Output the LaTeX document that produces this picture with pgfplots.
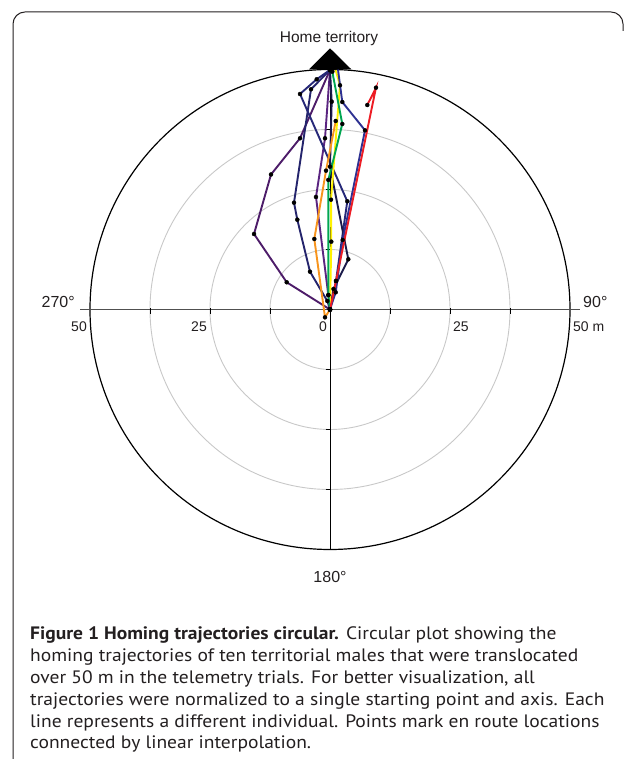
\documentclass[border=0pt]{standalone}
\usepackage{pgfplots}
\pgfplotsset{compat=1.18}
\usepackage{fontspec}
\setmainfont{Liberation Sans}
\newfontfamily\capfont[FakeStretch=1.085]{PT Sans}
\definecolor{cRed}{HTML}{ED1C24}
\definecolor{cOrange}{HTML}{F7941D}
\definecolor{cYellow}{HTML}{FFF200}
\definecolor{cGreen}{HTML}{00A651}
\definecolor{cBlue}{HTML}{2E3192}
\definecolor{cNavy}{HTML}{24246C}
\definecolor{cNavyB}{HTML}{262878}
\definecolor{cDark}{HTML}{1A1A4A}
\definecolor{cPurple}{HTML}{4D1C69}
\definecolor{cPurpleB}{HTML}{5A2480}
\definecolor{cGrid}{HTML}{C8C8C8}
\definecolor{cAxis}{HTML}{505050}
\definecolor{cText}{HTML}{231F20}

\pgfplotstableread{
x y
0 0
-9.02 5.67
-15.83 15.73
-12.29 28.13
-6.25 35.67
0 49.9
}\trA
\pgfplotstableread{
x y
0 0
-0.35 3.02
-2.92 23.44
-1.04 35.67
0 49.9
}\trD
\pgfplotstableread{
x y
0 0
-0.56 1.77
-4.17 7.88
-6.81 18.71
-7.5 22.25
-3.96 45.88
0 49.9
}\trC
\pgfplotstableread{
x y
0 0
1.25 5.94
3.60 22.54
-6.25 44.9
-2.77 47.96
0 49.9
}\trB
\pgfplotstableread{
x y
0 0
0.73 4.27
3.81 10.46
0 29.75
0.35 43.29
0 49.9
}\trF
\pgfplotstableread{
x y
0 0
1.19 3.58
2.65 14.48
7.29 37.33
2.56 43.23
1.60 50.46
}\trE
\pgfplotstableread{
x y
0 0
-1.04 -1.63
-3.27 14.69
-0.83 28.92
1.19 39.27
}\trH
\pgfplotstableread{
x y
0 0
0.27 14.13
0.21 22.88
2.08 46.71
1.04 50.3
}\trI
\pgfplotstableread{
x y
0 0
-0.35 3
-0.35 27
2.56 38.65
0.48 49.54
}\trJ
\pgfplotstableread{
x y
0 0
1.25 5.94
9.58 46.21
7.77 42.6
}\trG

\begin{document}
\begin{tikzpicture}[x=1pt,y=1pt]
\useasboundingbox (0,0) rectangle (636,759);
\draw[line width=1pt, cText, rounded corners=12pt] (13,0) -- (13,747) -- (623,747) -- (623,728);
\begin{axis}[at={(330pt,449.5pt)}, anchor=center, x=4.8pt, y=4.8pt,
  xmin=-55, xmax=55, ymin=-55, ymax=55, hide axis, clip=false,
  every axis plot/.append style={line width=1.9pt, mark=*, mark size=2pt,
    mark options={solid, fill=black, draw=black, line width=0.4pt}}]
\draw[cGrid, line width=0.9pt] (axis cs:0,0) circle[radius=12.5];
\draw[cGrid, line width=0.9pt] (axis cs:0,0) circle[radius=25];
\draw[cGrid, line width=0.9pt] (axis cs:0,0) circle[radius=37.5];
\draw[black, line width=1.2pt] (axis cs:0,0) circle[radius=50];
\draw[cAxis, line width=1.4pt] (axis cs:-52,0) -- (axis cs:52,0);
\draw[black, line width=1pt] (axis cs:0,50) -- (axis cs:0,-50);
\pgfplotsinvokeforeach{-37.5,-25,-12.5,12.5,25,37.5}{
  \draw[black, line width=1pt] (axis cs:#1,0.3) -- (axis cs:#1,-0.9);
  \draw[black, line width=1pt] (axis cs:-0.9,#1) -- (axis cs:0.3,#1);
}
\addplot[cPurple] table[x=x,y=y] {\trA};
\addplot[cPurpleB] table[x=x,y=y] {\trD};
\addplot[cNavy] table[x=x,y=y] {\trC};
\addplot[cNavyB] table[x=x,y=y] {\trB};
\addplot[cDark] table[x=x,y=y] {\trF};
\addplot[cOrange] table[x=x,y=y] {\trH};
\addplot[cYellow] table[x=x,y=y] {\trI};
\addplot[cGreen] table[x=x,y=y] {\trJ};
\addplot[cBlue] table[x=x,y=y] {\trE};
\addplot[cRed] table[x=x,y=y] {\trG};
\end{axis}
% home territory
\fill[black] (309,689.5) -- (330,710.7) -- (351.5,689.5) -- cycle;
\node[anchor=base, inner sep=0pt, font=\fontsize{15.5}{17}\selectfont, text=cText] at (329,716.3) {Home territory};
% direction labels
\node[anchor=base east, inner sep=0pt, font=\fontsize{16}{18}\selectfont, text=cText] at (75,451) {270°};
\node[anchor=base west, inner sep=0pt, font=\fontsize{16}{18}\selectfont, text=cText] at (583,451) {90°};
\node[anchor=base, inner sep=0pt, font=\fontsize{16}{18}\selectfont, text=cText] at (330,176) {180°};
% distance labels
\begin{scope}[every node/.style={inner sep=0pt, font=\fontsize{14}{16}\selectfont, text=cText}]
\node[anchor=north east] at (87,437.5) {50};
\node[anchor=north east] at (207,437.5) {25};
\node[anchor=north east] at (327,437.5) {0};
\node[anchor=north west] at (453,437.5) {25};
\node[anchor=north west] at (573,437.5) {50 m};
\end{scope}
% caption
\begin{scope}[every node/.style={anchor=base west, inner sep=0pt, font=\capfont\fontsize{18}{21}\selectfont, text=cText}]
\node at (30,119) {\textbf{Figure 1 Homing trajectories circular.} Circular plot showing the};
\node at (30,97.2) {homing trajectories of ten territorial males that were translocated};
\node at (30,75.4) {over 50 m in the telemetry trials. For better visualization, all};
\node at (30,53.6) {trajectories were normalized to a single starting point and axis. Each};
\node at (30,31.8) {line represents a different individual. Points mark en route locations};
\node at (30,10) {connected by linear interpolation.};
\end{scope}
\end{tikzpicture}
\end{document}
